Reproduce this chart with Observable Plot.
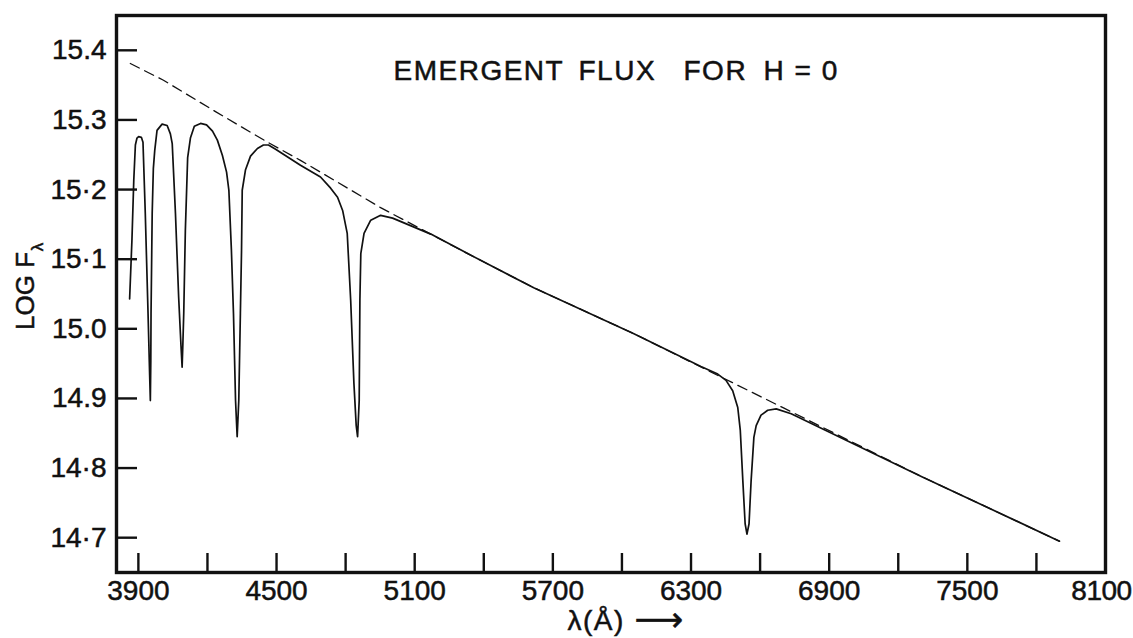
<!DOCTYPE html>
<html><head><meta charset="utf-8">
<script src="https://cdn.jsdelivr.net/npm/d3@7"></script>
<script src="https://cdn.jsdelivr.net/npm/@observablehq/plot@0.6"></script>
<style>
body{margin:0;background:#fff}
#chart svg{display:block}
</style>
</head><body><div id="chart"></div>
<script>
// Emergent flux spectrum (solid line): wavelength in Å, log F_lambda
const wavelength = [3862,3872,3880,3887,3894,3901,3913,3920,3930,3942,3949,3952,3954,3955,3960,3965,3971,3981,4003,4025,4039,4047,4061,4075,4085,4090,4093,4097,4104,4114,4126,4143,4170,4196,4222,4243,4265,4283,4293,4304,4313,4322,4329,4336,4343,4348,4351,4365,4387,4417,4443,4465,4496,4604,4691,4735,4765,4787,4807,4822,4836,4846,4852,4859,4862,4866,4880,4909,4952,5004,5170,5330,5617,6052,6343,6416,6452,6481,6503,6514,6525,6535,6543,6552,6561,6573,6583,6604,6633,6670,6735,7300,7900];
const logFlux = [15.043,15.127,15.213,15.264,15.274,15.276,15.275,15.268,15.166,15.022,14.933,14.897,14.955,15.022,15.166,15.230,15.256,15.285,15.294,15.292,15.280,15.266,15.166,15.045,14.976,14.945,14.976,15.022,15.141,15.246,15.274,15.291,15.295,15.293,15.284,15.271,15.249,15.225,15.199,15.113,15.022,14.897,14.845,14.897,15.022,15.113,15.199,15.228,15.248,15.259,15.264,15.264,15.258,15.235,15.218,15.202,15.189,15.170,15.137,15.041,14.922,14.861,14.845,14.897,15.041,15.108,15.137,15.156,15.163,15.159,15.136,15.108,15.059,14.993,14.946,14.935,14.926,14.911,14.887,14.854,14.782,14.720,14.705,14.720,14.782,14.844,14.861,14.876,14.883,14.885,14.878,14.788,14.695];

// Continuum (dashed line)
const continuumWavelength = [3865,4009,4235,4461,4604,4952,5330,5617,6052,6417,6704,7300,7900];
const continuumLogFlux = [15.381,15.357,15.312,15.268,15.242,15.174,15.108,15.059,14.993,14.933,14.886,14.788,14.695];

// Axis ticks and labels
const xTicks = [3900,4200,4500,4800,5100,5400,5700,6000,6300,6600,6900,7200,7500,7800];
const xTickLabels = [3900,4500,5100,5700,6300,6900,7500,8100];
const yTicks = [14.7,14.8,14.9,15.0,15.1,15.2,15.3,15.4];
const yTickLabels = ["14·7","14·8","14.9","15.0","15·1","15·2","15.3","15.4"];

const titleParts = ["EMERGENT", "FLUX", "FOR", "H = 0"];
const titleOffsets = [277, 462, 567, 647];
const yLabel = "LOG F";
const yLabelSub = "λ";
const xLabel = "λ(Å)";
const xArrow = "⟶";

const spectrum = wavelength.map((w, i) => ({w, f: logFlux[i]}));
const continuum = continuumWavelength.map((w, i) => ({w, f: continuumLogFlux[i]}));
const yLabelOf = v => yTickLabels[yTicks.findIndex(t => Math.abs(t - v) < 1e-6)];

const ink = "#111";
const font = "Liberation Sans, Arial, sans-serif";

const chart = Plot.plot({
  width: 1133,
  height: 638,
  marginLeft: 116,
  marginRight: 28,
  marginTop: 15,
  marginBottom: 66,
  style: {fontFamily: font, fontSize: "28px", color: ink, background: "#fff"},
  x: {domain: [3805, 8100]},
  y: {domain: [14.65, 15.45]},
  marks: [
    Plot.line(continuum, {x: "w", y: "f", stroke: ink, strokeWidth: 1.3, strokeDasharray: "10,6"}),
    Plot.line(spectrum, {x: "w", y: "f", stroke: ink, strokeWidth: 1.7}),
    Plot.axisX(xTicks, {tickSize: -19, strokeWidth: 2.4, tickFormat: () => "", label: null}),
    Plot.axisX(xTickLabels, {tickSize: 0, tickPadding: 8, label: null, fontSize: 28, tickFormat: d => String(d)}),
    Plot.axisY(yTicks, {tickSize: -21, strokeWidth: 2.4, tickFormat: () => "", label: null}),
    Plot.axisY(yTicks, {tickSize: 0, tickPadding: 10, label: null, fontSize: 28, tickFormat: yLabelOf}),
    Plot.frame({stroke: ink, strokeWidth: 3.4}),
    ...titleParts.map((t, i) => Plot.text([t], {text: d => d, frameAnchor: "top-left", textAnchor: "start", lineAnchor: "top", dx: titleOffsets[i], dy: 45, fontSize: 28, fill: ink})),
    Plot.text([yLabel], {text: d => d, frameAnchor: "left", rotate: -90, textAnchor: "middle", dx: -91, dy: -3, fontSize: 26, fill: ink}),
    Plot.text([yLabelSub], {text: d => d, frameAnchor: "left", rotate: -90, textAnchor: "middle", dx: -79, dy: -47, fontSize: 17, fill: ink}),
    Plot.text([xLabel], {text: d => d, frameAnchor: "bottom", textAnchor: "start", dx: 567 - 610.5, dy: 57, fontSize: 28, fill: ink}),
    Plot.text([xArrow], {text: d => d, frameAnchor: "bottom", textAnchor: "start", dx: 634 - 610.5, dy: 58, fontSize: 34, fill: ink, fontFamily: "DejaVu Sans"})
  ]
});
// heavier, slightly spaced lettering like the original print
d3.select(chart).selectAll("text").attr("stroke", ink).attr("stroke-width", 0.5);
d3.select(chart).selectAll("text")
  .filter(function() { return titleParts.includes(this.textContent) || this.textContent === xLabel; })
  .attr("letter-spacing", "1.5");
// keep the last x label inside the page, as in the original
d3.select(chart).selectAll("text")
  .filter(function() { return this.textContent === String(xTickLabels[xTickLabels.length - 1]); })
  .attr("dx", -4).attr("letter-spacing", "-0.5");
document.getElementById("chart").appendChild(chart);
</script>
</body></html>
